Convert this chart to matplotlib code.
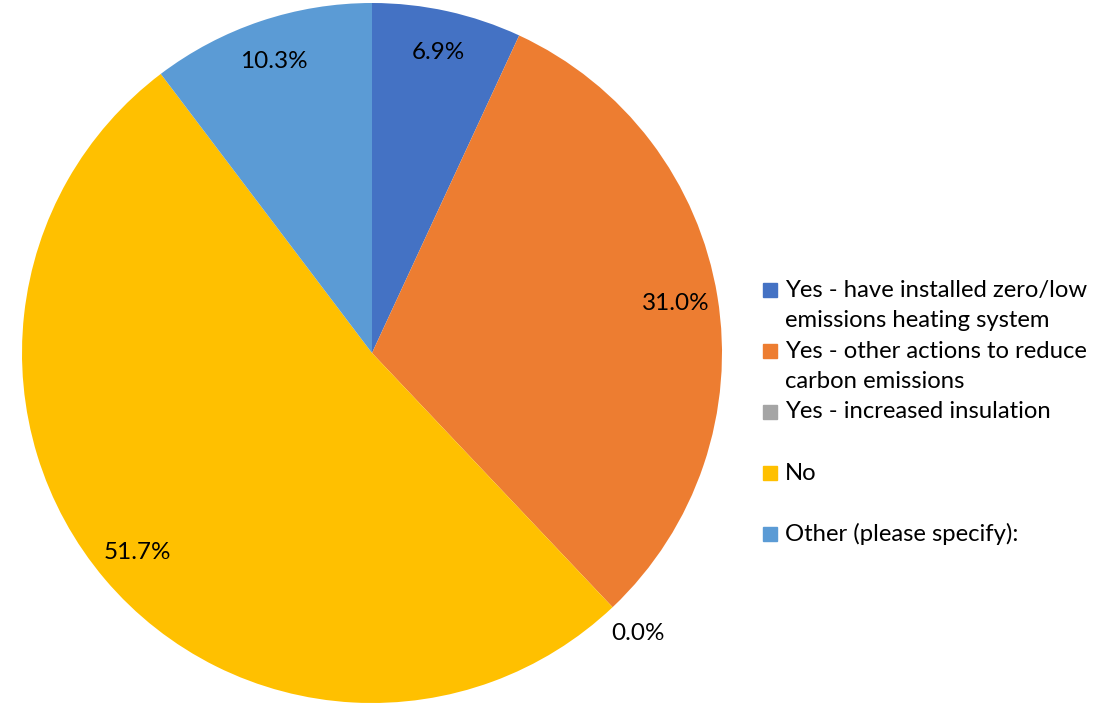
import numpy as np
import matplotlib
matplotlib.use("Agg")
import matplotlib.pyplot as plt
from matplotlib.patches import Rectangle

plt.rcParams["font.family"] = ["Lato", "DejaVu Sans"]

categories = [
    "Yes - have installed zero/low\nemissions heating system",
    "Yes - other actions to reduce\ncarbon emissions",
    "Yes - increased insulation",
    "No",
    "Other (please specify):",
]
values = [6.9, 31.0, 0.0, 51.7, 10.3]
colors = ["#4472C4", "#ED7D31", "#A5A5A5", "#FFC000", "#5B9BD5"]

W, H = 1120, 705
fig = plt.figure(figsize=(W / 100, H / 100), dpi=100)
cx, cy, R = 372, 353, 350
ax = fig.add_axes([(cx - R) / W, (H - cy - R) / H, 2 * R / W, 2 * R / H])
ax.pie(values, colors=colors, startangle=90, counterclock=False, radius=1,
       wedgeprops=dict(linewidth=0))
ax.set_xlim(-1, 1)
ax.set_ylim(-1, 1)
ax.set_aspect("equal")
ax.axis("off")

# percentage labels
total = sum(values)
start = 90.0
for v in values:
    sweep = v / total * 360
    mid = np.deg2rad(start - sweep / 2)
    r = 0.88 if v > 0 else 1.105
    ax.text(r * np.cos(mid), r * np.sin(mid), f"{v:.1f}%", ha="center", va="center",
            fontsize=17.5, color="#000000")
    start -= sweep

# legend drawn manually (Excel-style slots of two lines)
slot = 61
line = 30.5
y0 = 290
for i, (lab, col) in enumerate(zip(categories, colors)):
    y = y0 + i * slot
    fig.patches.append(Rectangle((763 / W, (H - y - 7) / H), 14 / W, 14 / H,
                                 transform=fig.transFigure, color=col))
    for k, txt in enumerate(lab.split("\n")):
        fig.text(785 / W, (H - y - k * line) / H, txt, ha="left", va="center",
                 fontsize=17.2, color="#000000")

fig.savefig("out.png", dpi=100)
